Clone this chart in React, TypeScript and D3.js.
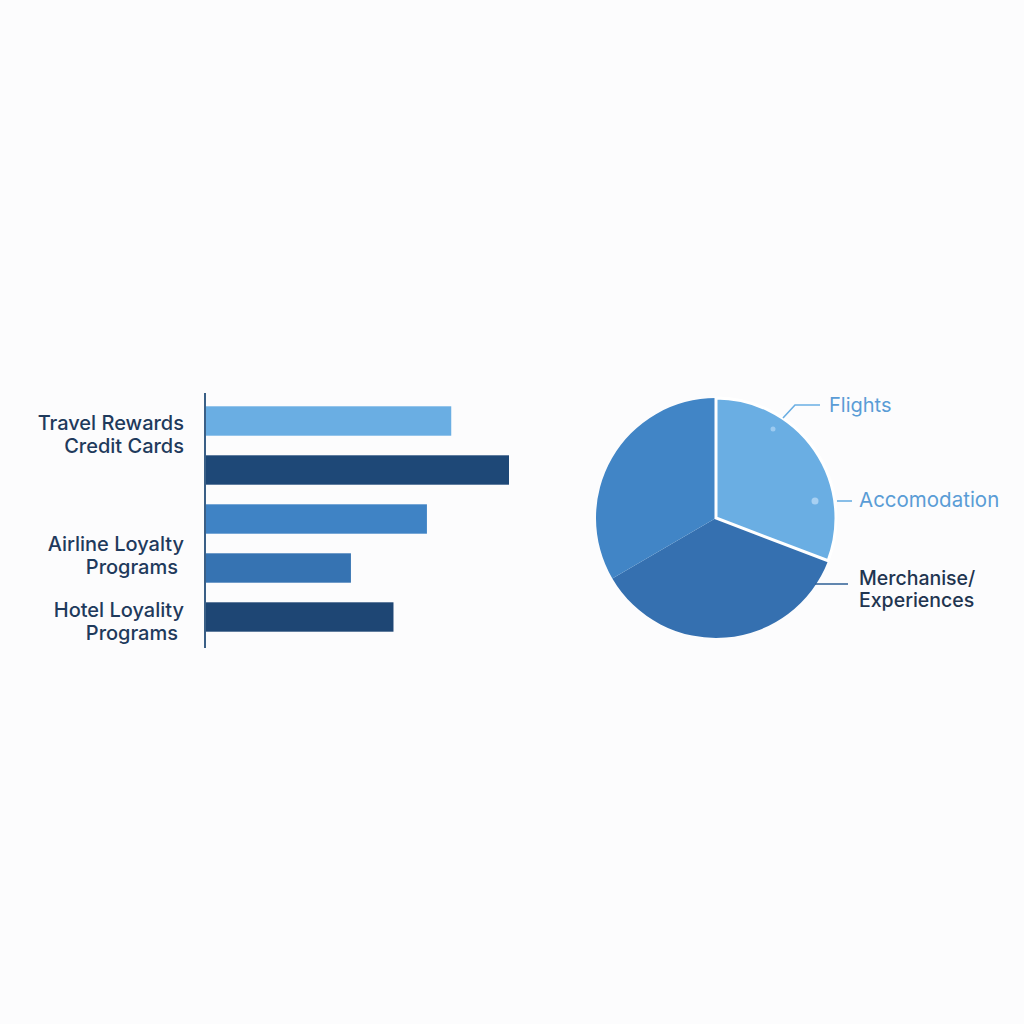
import * as d3 from 'd3';

// bar chart data
const barValues = [81, 100, 73, 48, 62];
const barColors = ['#6aaee3', '#1e4877', '#3f83c5', '#3673b2', '#1e4674'];
const groupLabels = [
  ['Travel Rewards', 'Credit Cards'],
  ['Airline Loyalty', 'Programs'],
  ['Hotel Loyality', 'Programs'],
];
// where each group label sits, in bar-index units
const groupAt = [0.28, 2.74, 4.09];

// pie data
const sliceNames = ['Flights / Accommodation', 'Merchanise / Experiences', 'Other'];
const sliceValues = [30.8, 35.8, 33.4];
const sliceColors = ['#6aaee3', '#3570b0', '#4185c6'];

const FONT = 'Inter, "Open Sans", sans-serif';

const BarChart = () => {
  const y = d3.scaleBand<number>()
    .domain(d3.range(barValues.length))
    .range([396.5, 641.5])
    .paddingInner(0.4)
    .paddingOuter(0.2);
  const x = d3.scaleLinear().domain([0, 100]).range([205, 509]);
  const idx = d3.scaleLinear()
    .domain([0, 1])
    .range([y(0)! + y.bandwidth() / 2, y(1)! + y.bandwidth() / 2]);

  return (
    <g>
      {barValues.map((v, i) => (
        <rect key={i} x={x(0)} y={y(i)} width={x(v) - x(0)} height={y.bandwidth()} fill={barColors[i]} />
      ))}
      <line x1={x(0)} x2={x(0)} y1={393} y2={648} stroke="#3a5f86" strokeWidth={2} />
      {groupLabels.map((lines, g) => (
        <text key={g} textAnchor="end" fontFamily={FONT} fontSize={20} fill="#1f3a5c" fontWeight={500}>
          {lines.map((t, k) => (
            <tspan key={k} x={k === 1 && g > 0 ? 178 : 184} y={idx(groupAt[g]) + (k - 0.5) * 23 + 7}>{t}</tspan>
          ))}
        </text>
      ))}
    </g>
  );
};

const PieChart = () => {
  const cx = 716;
  const cy = 518;
  const r = 120;
  const pie = d3.pie<number>().sort(null)(sliceValues);
  const arc = d3.arc<d3.PieArcDatum<number>>().innerRadius(0).outerRadius(r);
  const light = pie[0];

  return (
    <g>
      <g transform={`translate(${cx},${cy})`}>
        {pie.map((p, i) => (
          <path key={sliceNames[i]} d={arc(p) || ''} fill={sliceColors[i]} />
        ))}
        <path d={arc(light) || ''} fill="none" stroke="#ffffff" strokeWidth={3} strokeLinejoin="miter" />
        {/* marker dots inside the light slice */}
        <circle cx={773 - cx} cy={429 - cy} r={2.5} fill="#9ccaf0" />
        <circle cx={815 - cx} cy={501 - cy} r={3.5} fill="#a7d0f2" />
      </g>
      {/* leader lines */}
      <polyline points="783,418 795,405 820,405" fill="none" stroke="#6aaee3" strokeWidth={1.6} />
      <line x1={837} x2={852} y1={501} y2={501} stroke="#6aaee3" strokeWidth={1.6} />
      <line x1={815} x2={848} y1={584} y2={584} stroke="#2e5f95" strokeWidth={1.6} />
      <text x={829} y={412} fontFamily={FONT} fontSize={20} fill="#5a9cd6">Flights</text>
      <text x={859} y={507} fontFamily={FONT} fontSize={20.5} fill="#5a9cd6">Accomodation</text>
      <text fontFamily={FONT} fontSize={19.5} fill="#1f3550" fontWeight={500}>
        <tspan x={859} y={585}>Merchanise/</tspan>
        <tspan x={859} y={607}>Experiences</tspan>
      </text>
    </g>
  );
};

export default function App() {
  return (
    <svg width={1024} height={1024} style={{ position: 'absolute', left: 0, top: 0 }}>
      <rect width={1024} height={1024} fill="#fcfcfd" />
      <BarChart />
      <PieChart />
    </svg>
  );
}
